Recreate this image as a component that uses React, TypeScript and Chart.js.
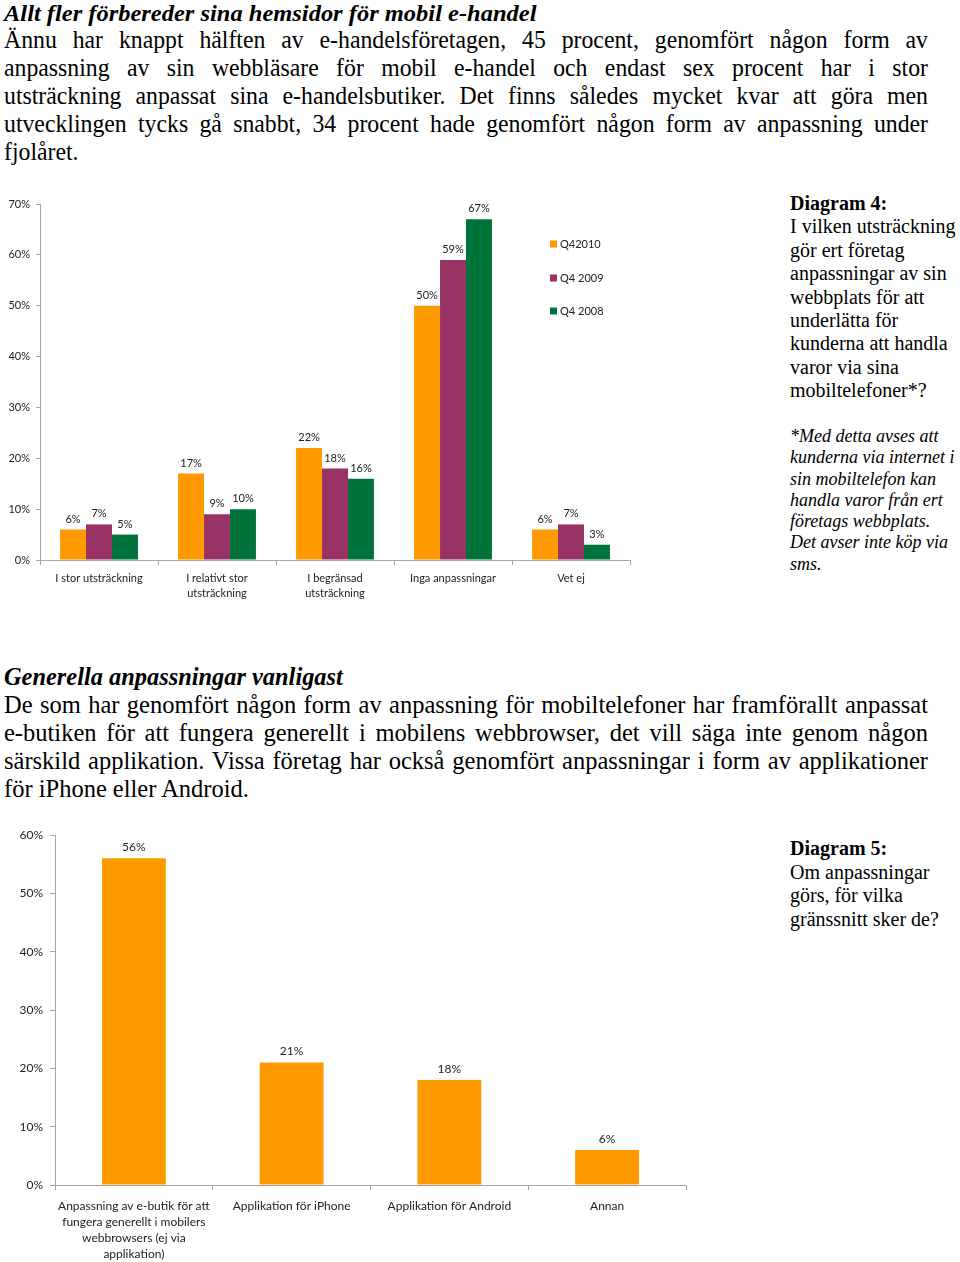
import React, { useEffect, useRef } from "react";
import { Chart, registerables } from "chart.js";

Chart.register(...registerables);

// ---------- Data: Diagram 4 ----------
const categories1: string[][] = [
  ["I stor utsträckning"],
  ["I relativt stor", "utsträckning"],
  ["I begränsad", "utsträckning"],
  ["Inga anpassningar"],
  ["Vet ej"],
];
const seriesNames1 = ["Q42010", "Q4 2009", "Q4 2008"];
const q4_2010 = [6, 17, 22, 50, 6];
const q4_2009 = [7, 9, 18, 59, 7];
const q4_2008 = [5, 10, 16, 67, 3];
const yMax1 = 70;
const yStep1 = 10;

// ---------- Data: Diagram 5 ----------
const categories2: string[][] = [
  ["Anpassning av e-butik för att", "fungera generellt i mobilers", "webbrowsers (ej via", "applikation)"],
  ["Applikation för iPhone"],
  ["Applikation för Android"],
  ["Annan"],
];
const values2 = [56, 21, 18, 6];
const yMax2 = 60;
const yStep2 = 10;

const colors1 = ["#FF9900", "#993366", "#00733A"];
const chartFont = "Lato, 'Open Sans', sans-serif";
const axisGray = "#A6A6A6";
const textDark = "#222";

// ---------- Text ----------
const heading1 = "Allt fler förbereder sina hemsidor för mobil e-handel";
const para1 = [
  "Ännu har knappt hälften av e-handelsföretagen, 45 procent, genomfört någon form av",
  "anpassning av sin webbläsare för mobil e-handel och endast sex procent har i stor",
  "utsträckning anpassat sina e-handelsbutiker. Det finns således mycket kvar att göra men",
  "utvecklingen tycks gå snabbt, 34 procent hade genomfört någon form av anpassning under",
  "fjolåret.",
];
const heading2 = "Generella anpassningar vanligast";
const para2 = [
  "De som har genomfört någon form av anpassning för mobiltelefoner har framförallt anpassat",
  "e-butiken för att fungera generellt i mobilens webbrowser, det vill säga inte genom någon",
  "särskild applikation. Vissa företag har också genomfört anpassningar i form av applikationer",
  "för iPhone eller Android.",
];
const diag4Title = "Diagram 4:";
const diag4Lines = [
  "I vilken utsträckning",
  "gör ert företag",
  "anpassningar av sin",
  "webbplats för att",
  "underlätta för",
  "kunderna att handla",
  "varor via sina",
  "mobiltelefoner*?",
];
const diag4Note = [
  "*Med detta avses att",
  "kunderna via internet i",
  "sin mobiltelefon kan",
  "handla varor från ert",
  "företags webbplats.",
  "Det avser inte köp via",
  "sms.",
];
const diag5Title = "Diagram 5:";
const diag5Lines = ["Om anpassningar", "görs, för vilka", "gränssnitt sker de?"];

// ---------- Plugins ----------
const valueLabels = (size: number) => ({
  id: "valueLabels",
  afterDatasetsDraw(chart: any) {
    const ctx = chart.ctx;
    ctx.save();
    ctx.font = `${size}px ${chartFont}`;
    ctx.fillStyle = textDark;
    ctx.textAlign = "center";
    ctx.textBaseline = "bottom";
    chart.data.datasets.forEach((ds: any, i: number) => {
      const meta = chart.getDatasetMeta(i);
      meta.data.forEach((bar: any, j: number) => {
        ctx.fillText(`${ds.data[j]}%`, bar.x, bar.y - 5);
      });
    });
    ctx.restore();
  },
});

const innerLegend = {
  id: "innerLegend",
  afterDraw(chart: any) {
    const ctx = chart.ctx;
    const area = chart.chartArea;
    ctx.save();
    ctx.font = `11px ${chartFont}`;
    ctx.textBaseline = "middle";
    ctx.textAlign = "left";
    const x0 = area.right - 80;
    const ys = [40, 74, 107];
    chart.data.datasets.forEach((ds: any, i: number) => {
      const y = area.top + ys[i];
      ctx.fillStyle = ds.backgroundColor;
      ctx.fillRect(x0, y - 3.5, 7, 7);
      ctx.fillStyle = textDark;
      ctx.fillText(ds.label, x0 + 10, y);
    });
    ctx.restore();
  },
};

function Chart1() {
  const ref = useRef<HTMLCanvasElement>(null);
  useEffect(() => {
    if (!ref.current) return;
    const chart = new Chart(ref.current, {
      type: "bar",
      data: {
        labels: categories1 as any,
        datasets: [q4_2010, q4_2009, q4_2008].map((d, i) => ({
          label: seriesNames1[i],
          data: d,
          backgroundColor: colors1[i],
          categoryPercentage: 0.66,
          barPercentage: 1,
        })),
      },
      options: {
        responsive: false,
        animation: false,
        layout: { padding: { top: 14, right: 10, left: 0, bottom: 0 } },
        plugins: { legend: { display: false }, tooltip: { enabled: false } },
        scales: {
          x: {
            afterFit: (s: any) => { s.height = 50; },
            grid: { drawOnChartArea: false, drawTicks: true, tickLength: 5, color: axisGray },
            border: { color: axisGray },
            ticks: {
              color: textDark,
              font: { family: chartFont, size: 11, lineHeight: 1.36 },
              padding: 6,
              maxRotation: 0,
              autoSkip: false,
            },
          },
          y: {
            min: 0,
            max: yMax1,
            afterFit: (s: any) => { s.width = 40; },
            grid: { drawOnChartArea: false, drawTicks: true, tickLength: 4, color: axisGray },
            border: { color: axisGray },
            ticks: {
              stepSize: yStep1,
              color: textDark,
              font: { family: chartFont, size: 11 },
              padding: 6,
              callback: (v: any) => `${v}%`,
            },
          },
        },
      },
      plugins: [valueLabels(11), innerLegend],
    });
    return () => chart.destroy();
  }, []);
  return <canvas ref={ref} width={640} height={420} style={{ position: "absolute", left: 0, top: 190 }} />;
}

function Chart2() {
  const ref = useRef<HTMLCanvasElement>(null);
  useEffect(() => {
    if (!ref.current) return;
    const chart = new Chart(ref.current, {
      type: "bar",
      data: {
        labels: categories2 as any,
        datasets: [
          {
            label: "Andel",
            data: values2,
            backgroundColor: colors1[0],
            categoryPercentage: 0.405,
            barPercentage: 1,
          },
        ],
      },
      options: {
        responsive: false,
        animation: false,
        layout: { padding: { top: 15, right: 14, left: 0, bottom: 0 } },
        plugins: { legend: { display: false }, tooltip: { enabled: false } },
        scales: {
          x: {
            afterFit: (s: any) => { s.height = 77; },
            grid: { drawOnChartArea: false, drawTicks: true, tickLength: 5, color: axisGray },
            border: { color: axisGray },
            ticks: {
              color: textDark,
              font: { family: chartFont, size: 12, lineHeight: 1.33 },
              padding: 8,
              maxRotation: 0,
              autoSkip: false,
            },
          },
          y: {
            min: 0,
            max: yMax2,
            afterFit: (s: any) => { s.width = 55; },
            grid: { drawOnChartArea: false, drawTicks: true, tickLength: 5, color: axisGray },
            border: { color: axisGray },
            ticks: {
              stepSize: yStep2,
              color: textDark,
              font: { family: chartFont, size: 12 },
              padding: 7,
              callback: (v: any) => `${v}%`,
            },
          },
        },
      },
      plugins: [valueLabels(12)],
    });
    return () => chart.destroy();
  }, []);
  return <canvas ref={ref} width={700} height={442} style={{ position: "absolute", left: 0, top: 820 }} />;
}

const serif = "'Liberation Serif', 'Times New Roman', serif";

function Justified({ lines, top, fontSize, lineHeight, scale }: { lines: string[]; top: number; fontSize: number; lineHeight: number; scale: number }) {
  const width = 924 / scale;
  return (
    <div
      style={{
        position: "absolute",
        left: 4,
        top,
        width,
        transform: `scaleX(${scale})`,
        transformOrigin: "left top",
        fontFamily: serif,
        fontSize,
        lineHeight: `${lineHeight}px`,
        color: "#000",
      }}
    >
      {lines.map((l, i) => (
        <div
          key={i}
          style={{
            whiteSpace: "nowrap",
            textAlign: i === lines.length - 1 ? "left" : "justify",
            textAlignLast: i === lines.length - 1 ? "left" : "justify",
          }}
        >
          {l}
        </div>
      ))}
    </div>
  );
}

export default function App() {
  useEffect(() => {
    document.body.style.margin = "0";
  }, []);
  return (
    <div style={{ position: "relative", width: 960, height: 1262, background: "#fff", overflow: "hidden" }}>
      <div
        style={{
          position: "absolute",
          left: 4,
          top: 0,
          fontFamily: serif,
          fontWeight: "bold",
          fontStyle: "italic",
          fontSize: 24,
          lineHeight: "26px",
          whiteSpace: "nowrap",
          transform: "scaleX(1.02)",
          transformOrigin: "left top",
        }}
      >
        {heading1}
      </div>
      <Justified lines={para1} top={26} fontSize={25} lineHeight={28} scale={0.95} />

      <Chart1 />

      <div style={{ position: "absolute", left: 790, top: 192, fontFamily: serif, fontSize: 20, lineHeight: "23.4px", whiteSpace: "nowrap" }}>
        <div style={{ fontWeight: "bold" }}>{diag4Title}</div>
        {diag4Lines.map((l, i) => (
          <div key={i}>{l}</div>
        ))}
      </div>
      <div style={{ position: "absolute", left: 790, top: 426, fontFamily: serif, fontSize: 18, fontStyle: "italic", lineHeight: "21.3px", whiteSpace: "nowrap" }}>
        {diag4Note.map((l, i) => (
          <div key={i}>{l}</div>
        ))}
      </div>

      <div
        style={{
          position: "absolute",
          left: 4,
          top: 664,
          fontFamily: serif,
          fontWeight: "bold",
          fontStyle: "italic",
          fontSize: 24.4,
          lineHeight: "26px",
          whiteSpace: "nowrap",
        }}
      >
        {heading2}
      </div>
      <Justified lines={para2} top={691} fontSize={24.5} lineHeight={28} scale={1} />

      <Chart2 />

      <div style={{ position: "absolute", left: 790, top: 837, fontFamily: serif, fontSize: 20, lineHeight: "23.6px", whiteSpace: "nowrap" }}>
        <div style={{ fontWeight: "bold" }}>{diag5Title}</div>
        {diag5Lines.map((l, i) => (
          <div key={i}>{l}</div>
        ))}
      </div>
    </div>
  );
}
